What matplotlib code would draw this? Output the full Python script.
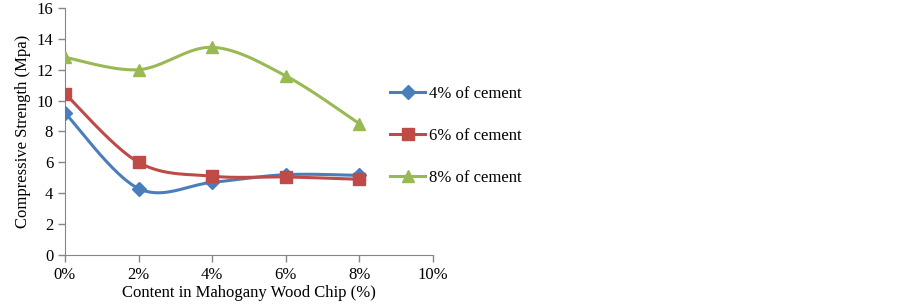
import numpy as np
import matplotlib
matplotlib.use("Agg")
import matplotlib.pyplot as plt

plt.rcParams['font.family'] = ['Liberation Serif', 'DejaVu Serif']

# data
chip = [0, 2, 4, 6, 8]
cem4 = [9.2, 4.3, 4.7, 5.2, 5.15]
cem6 = [10.45, 6.0, 5.1, 5.05, 4.9]
cem8 = [12.8, 12.0, 13.45, 11.6, 8.5]
labels = ['4% of cement', '6% of cement', '8% of cement']
xticks = [0, 2, 4, 6, 8, 10]
xticklabels = ['0%', '2%', '4%', '6%', '8%', '10%']


def smooth(x, y, n=40):
    # excel-like smoothed line (catmull-rom bezier)
    p = np.column_stack([x, y]).astype(float)
    pp = np.vstack([p[0], p, p[-1]])
    out = []
    t = np.linspace(0, 1, n)[:, None]
    for i in range(len(p) - 1):
        a = pp[i + 1]; b = pp[i + 2]
        c1 = a + (pp[i + 2] - pp[i]) / 6.0
        c2 = b - (pp[i + 3] - pp[i + 1]) / 6.0
        seg = (1 - t)**3 * a + 3 * (1 - t)**2 * t * c1 + 3 * (1 - t) * t**2 * c2 + t**3 * b
        out.append(seg)
    s = np.vstack(out)
    return s[:, 0], s[:, 1]


fig = plt.figure(figsize=(9.02, 3.06), dpi=100)
ax = fig.add_axes([0.072, 0.167, 0.408, 0.807])

series = [(cem4, '#4A7EBB', 'D', 7), (cem6, '#BE4B48', 's', 8), (cem8, '#98B954', '^', 9)]
handles = []
for (vals, col, mk, ms), lab in zip(series, labels):
    sx, sy = smooth(chip, vals)
    ax.plot(sx, sy, color=col, lw=2.2, zorder=2)
    ax.plot(chip, vals, ls='none', marker=mk, ms=ms, color=col, zorder=3)
    h, = ax.plot([], [], color=col, lw=2.2, marker=mk, ms=ms, label=lab)
    handles.append(h)

ax.set_xlim(0, 10)
ax.set_ylim(0, 16)
ax.set_xticks(xticks)
ax.set_xticklabels(xticklabels)
ax.set_yticks(range(0, 17, 2))
for s in ['top', 'right']:
    ax.spines[s].set_visible(False)
for s in ['left', 'bottom']:
    ax.spines[s].set_color('#868686')
ax.tick_params(colors='#868686', labelcolor='black', labelsize=12, length=5, width=1)
ax.set_xlabel('Content in Mahogany Wood Chip (%)', fontsize=12, labelpad=2)
ax.set_ylabel('Compressive Strength (Mpa)', fontsize=12, labelpad=4)

fig.legend(handles=handles, loc='upper left', bbox_to_anchor=(0.416, 0.767),
           frameon=False, fontsize=12, labelspacing=1.55, handlelength=2.1,
           handletextpad=0.2)

plt.savefig("out.png", dpi=100)
